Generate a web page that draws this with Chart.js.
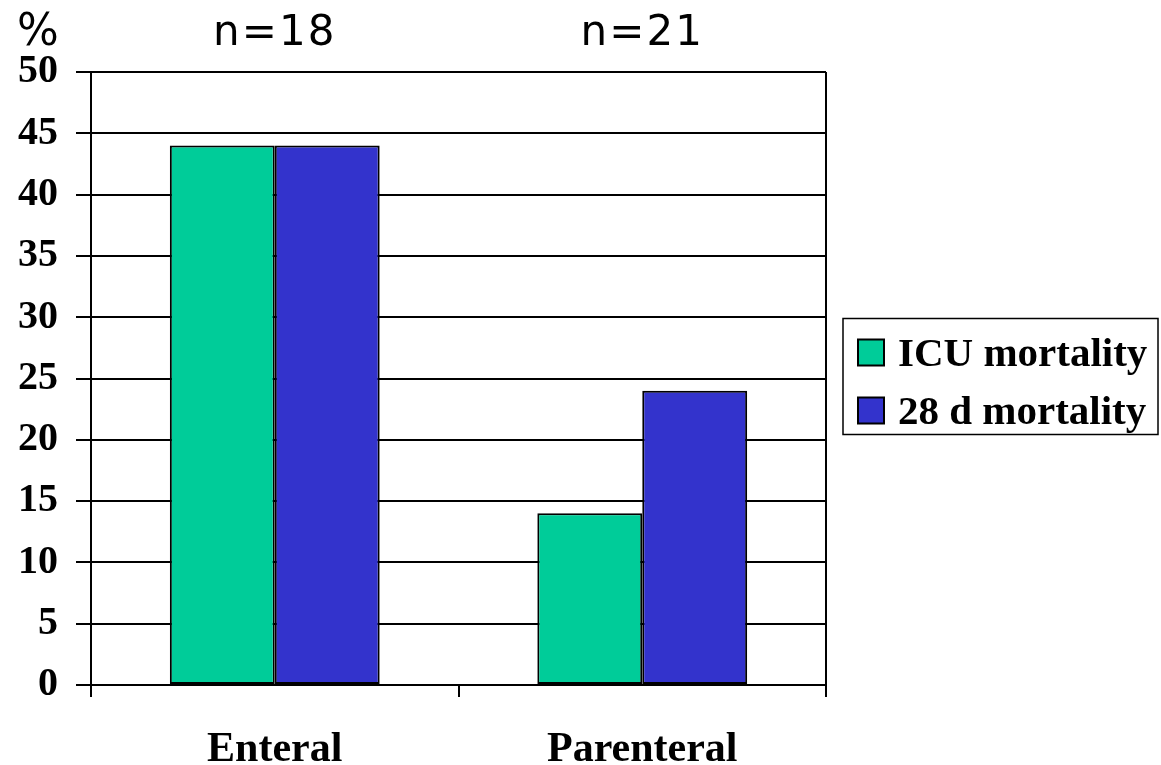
<!DOCTYPE html>
<html>
<head>
<meta charset="utf-8">
<script src="https://cdn.jsdelivr.net/npm/chart.js@4"></script>
<style>
  html, body { margin: 0; padding: 0; background: #fff; }
</style>
</head>
<body>
<canvas id="chart" width="1161" height="765"></canvas>
<script>
// data
const categories = ['Enteral', 'Parenteral'];
const groupSizes = ['n=18', 'n=21'];
const icuMortality = [44, 14];
const mortality28d = [44, 24];
const yMax = 50;
const yStep = 5;

const serifFamily = '"Liberation Serif", "Times New Roman", serif';
const serifBold = (size) => ({ family: serifFamily, size: size, weight: 'bold', lineHeight: 1 });

// "%" and "n=.." labels, right frame line, boxed legend
const extras = {
  id: 'extras',
  afterDraw(chart) {
    const { ctx, chartArea, scales } = chart;
    ctx.save();
    ctx.fillStyle = '#000';
    ctx.font = '42px "DejaVu Sans", sans-serif';
    ctx.letterSpacing = '2px';
    ctx.textAlign = 'center';
    ctx.textBaseline = 'alphabetic';
    groupSizes.forEach((txt, i) => {
      ctx.fillText(txt, scales.x.getPixelForValue(i), chartArea.top - 27);
    });
    ctx.letterSpacing = '0px';
    ctx.font = '44px "DejaVu Sans", sans-serif';
    ctx.fillText('%', chartArea.left - 53, chartArea.top - 27);

    ctx.strokeStyle = '#000';
    ctx.lineWidth = 2;
    ctx.beginPath();
    ctx.moveTo(chartArea.right, chartArea.top);
    ctx.lineTo(chartArea.right, chartArea.bottom);
    ctx.stroke();

    // legend
    const midY = (chartArea.top + chartArea.bottom) / 2;
    const boxL = chartArea.right + 17;
    const boxT = midY - 60;
    ctx.lineWidth = 1.5;
    ctx.strokeRect(boxL, boxT, 1158 - boxL, 116);
    ctx.font = 'bold 41px ' + serifFamily;
    ctx.textAlign = 'left';
    chart.data.datasets.forEach((ds, i) => {
      const cy = boxT + 34 + i * 58;
      ctx.fillStyle = ds.backgroundColor;
      ctx.fillRect(boxL + 15, cy - 13, 26, 26);
      ctx.lineWidth = 2;
      ctx.strokeRect(boxL + 15, cy - 13, 26, 26);
      ctx.fillStyle = '#000';
      ctx.fillText(ds.label, boxL + 55, cy + 13);
    });
    ctx.restore();
  }
};

new Chart(document.getElementById('chart'), {
  type: 'bar',
  data: {
    labels: categories,
    datasets: [
      {
        label: 'ICU mortality',
        data: icuMortality,
        backgroundColor: '#00CC99',
        borderColor: '#000',
        borderWidth: 2,
        borderSkipped: false
      },
      {
        label: '28 d mortality',
        data: mortality28d,
        backgroundColor: '#3333CC',
        borderColor: '#000',
        borderWidth: 2,
        borderSkipped: false
      }
    ]
  },
  options: {
    responsive: false,
    animation: false,
    layout: { padding: { top: 72, left: 0, right: 335, bottom: -38 } },
    datasets: {
      bar: { categoryPercentage: 0.571, barPercentage: 1.0 }
    },
    plugins: {
      legend: { display: false },
      tooltip: { enabled: false }
    },
    scales: {
      x: {
        offset: true,
        grid: {
          offset: true,
          drawOnChartArea: false,
          drawTicks: true,
          tickLength: 12,
          color: '#000',
          lineWidth: 2
        },
        border: { display: true, color: '#000', width: 2 },
        ticks: { color: '#000', font: serifBold(42), padding: 32 }
      },
      y: {
        min: 0,
        max: yMax,
        ticks: { stepSize: yStep, color: '#000', font: serifBold(40), padding: 18 },
        grid: { color: '#000', lineWidth: 2, tickLength: 15 },
        border: { display: true, color: '#000', width: 2 }
      }
    }
  },
  plugins: [extras]
});
</script>
</body>
</html>
